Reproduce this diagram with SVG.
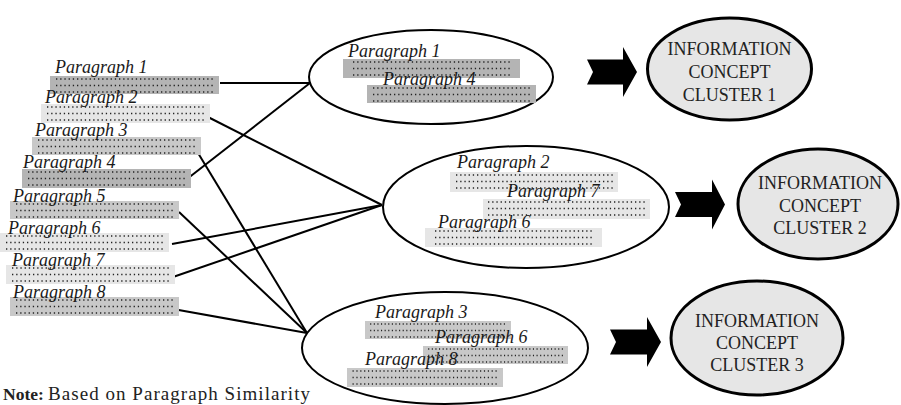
<svg xmlns="http://www.w3.org/2000/svg" width="901" height="405" viewBox="0 0 901 405">
<style>
.pt{font-family:"Liberation Serif","Times New Roman",serif;font-style:italic;font-size:18px;fill:#1a1a1a}
.ct{font-family:"Liberation Serif","Times New Roman",serif;font-size:18px;fill:#222;text-anchor:middle}
.dk{fill:#b4b4b4}
.md{fill:#c8c8c8}
.lt{fill:#e6e6e6}
.dots{stroke:#222;stroke-width:1.3;stroke-dasharray:1.3 2.9;fill:none}
.grp{fill:#fff;stroke:#000;stroke-width:2}
.cl{fill:#e6e6e6;stroke:#000;stroke-width:3}
.ln{stroke:#000;stroke-width:2;fill:none}
.arr{fill:#000}
.note{font-family:"Liberation Serif","Times New Roman",serif;font-size:19px;fill:#222}
</style>
<defs>
<g id="dots169">
<line class="dots" x1="6" y1="3" x2="163" y2="3"/>
<line class="dots" x1="6" y1="9.5" x2="163" y2="9.5"/>
<line class="dots" x1="6" y1="16" x2="163" y2="16"/>
</g>
</defs>

<g id="connectors">
<line class="ln" x1="220" y1="83" x2="310" y2="83"/>
<line class="ln" x1="187" y1="179" x2="310" y2="83"/>
<line class="ln" x1="204" y1="115" x2="382" y2="205"/>
<line class="ln" x1="172" y1="244" x2="382" y2="205"/>
<line class="ln" x1="173" y1="277" x2="382" y2="205"/>
<line class="ln" x1="195" y1="148" x2="307" y2="333"/>
<line class="ln" x1="179" y1="212" x2="307" y2="333"/>
<line class="ln" x1="173" y1="309" x2="307" y2="333"/>
<path class="arr" d="M587,59.5 L623,59.5 L623,47 L637,72 L623,97 L623,84.5 L587,84.5 L593,72 Z"/>
<path class="arr" d="M675,192 L712,192 L712,179.5 L725,204.5 L712,229.5 L712,217 L675,217 L681,204.5 Z"/>
<path class="arr" d="M610,329.5 L647,329.5 L647,317 L661,342 L647,367 L647,354.5 L610,354.5 L616,342 Z"/>
</g>

<g id="p1"><rect class="dk" x="50" y="76" width="169" height="18"/><use href="#dots169" x="50" y="76"/><text class="pt" x="55" y="73">Paragraph 1</text></g>
<g id="p2"><rect class="lt" x="41" y="104" width="169" height="19"/><use href="#dots169" x="41" y="104"/><text class="pt" x="45" y="103">Paragraph 2</text></g>
<g id="p3"><rect class="md" x="32" y="137" width="169" height="18"/><use href="#dots169" x="32" y="137"/><text class="pt" x="35" y="136">Paragraph 3</text></g>
<g id="p4"><rect class="dk" x="22" y="169" width="169" height="19"/><use href="#dots169" x="22" y="169"/><text class="pt" x="23" y="168">Paragraph 4</text></g>
<g id="p5"><rect class="md" x="10" y="201" width="169" height="18"/><use href="#dots169" x="10" y="201"/><text class="pt" x="13" y="202">Paragraph 5</text></g>
<g id="p6"><rect class="lt" x="0" y="233" width="169" height="19"/><use href="#dots169" x="0" y="233"/><text class="pt" x="8" y="234">Paragraph 6</text></g>
<g id="p7"><rect class="lt" x="6" y="265" width="169" height="19"/><use href="#dots169" x="6" y="265"/><text class="pt" x="12" y="266">Paragraph 7</text></g>
<g id="p8"><rect class="md" x="10" y="297" width="169" height="19"/><use href="#dots169" x="10" y="297"/><text class="pt" x="13" y="298">Paragraph 8</text></g>

<g id="group1">
<ellipse class="grp" cx="431" cy="77" rx="122" ry="47"/>
<rect class="dk" x="343" y="59" width="177" height="19"/><use href="#dots169" x="347" y="59"/><text class="pt" x="348" y="57">Paragraph 1</text>
<rect class="dk" x="367" y="85" width="169" height="18"/><use href="#dots169" x="367" y="85"/><text class="pt" x="383" y="85">Paragraph 4</text>
</g>

<g id="group2">
<ellipse class="grp" cx="526" cy="207" rx="143" ry="61"/>
<rect class="lt" x="450" y="172" width="168" height="20"/><use href="#dots169" x="450" y="172"/><text class="pt" x="457" y="168">Paragraph 2</text>
<rect class="lt" x="483" y="199" width="167" height="20"/><use href="#dots169" x="482" y="199"/><text class="pt" x="507" y="197">Paragraph 7</text>
<rect class="lt" x="425" y="228" width="177" height="19"/><use href="#dots169" x="429" y="228"/><text class="pt" x="438" y="228">Paragraph 6</text>
</g>

<g id="group3">
<ellipse class="grp" cx="445" cy="348" rx="143" ry="56"/>
<rect class="md" x="365" y="321" width="146" height="18"/><use href="#dots169" x="365" y="321" transform="translate(365 321) scale(0.86 1) translate(-365 -321)"/><text class="pt" x="375" y="318">Paragraph 3</text>
<rect class="md" x="423" y="346" width="145" height="18"/><use href="#dots169" x="423" y="346" transform="translate(423 346) scale(0.86 1) translate(-423 -346)"/><text class="pt" x="435" y="343">Paragraph 6</text>
<rect class="md" x="347" y="368" width="156" height="19"/><use href="#dots169" x="347" y="368" transform="translate(347 368) scale(0.92 1) translate(-347 -368)"/><text class="pt" x="365" y="365">Paragraph 8</text>
</g>

<g id="cluster1">
<ellipse class="cl" cx="729.5" cy="69" rx="82" ry="51"/>
<text class="ct" x="729.5" y="55">INFORMATION</text>
<text class="ct" x="729.5" y="78">CONCEPT</text>
<text class="ct" x="729.5" y="101">CLUSTER 1</text>
</g>
<g id="cluster2">
<ellipse class="cl" cx="818" cy="204" rx="80" ry="55"/>
<text class="ct" x="820" y="189">INFORMATION</text>
<text class="ct" x="820" y="212">CONCEPT</text>
<text class="ct" x="820" y="234">CLUSTER 2</text>
</g>
<g id="cluster3">
<ellipse class="cl" cx="757" cy="338" rx="86" ry="57"/>
<text class="ct" x="757" y="327">INFORMATION</text>
<text class="ct" x="757" y="349">CONCEPT</text>
<text class="ct" x="757" y="371">CLUSTER 3</text>
</g>

<text class="note" x="3" y="400"><tspan font-weight="bold" font-size="17.5">Note:</tspan><tspan x="48" textLength="262" lengthAdjust="spacing">Based on Paragraph Similarity</tspan></text>
</svg>
